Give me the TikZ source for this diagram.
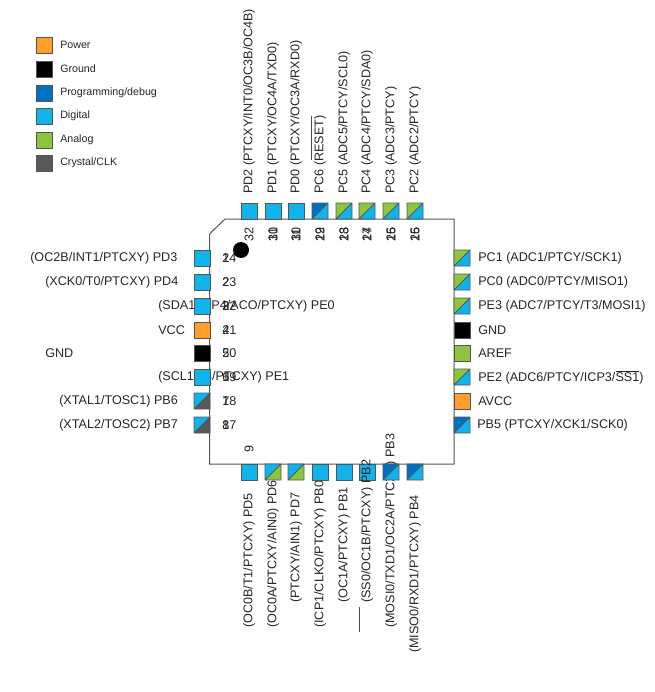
\documentclass[tikz,border=0pt]{standalone}
\usepackage{fontspec}
\setmainfont{Liberation Sans}
\definecolor{cpow}{HTML}{FF9E2D}
\definecolor{cprog}{HTML}{0070C0}
\definecolor{cdig}{HTML}{0FB4EC}
\definecolor{cana}{HTML}{8CC63F}
\definecolor{ccry}{HTML}{595959}
\definecolor{cedge}{HTML}{555555}
\tikzset{
  x=0.75pt,y=-0.75pt,
  lbl/.style={font=\fontsize{9.45}{11}\selectfont,inner sep=0pt,text=black!85},
  small/.style={font=\fontsize{8}{10}\selectfont,inner sep=0pt,text=black!85},
  pinbox/.style={draw=cedge,line width=0.7pt},
}
\newcommand{\pinsq}[3]{\path[pinbox,fill=#3] (#1,#2) rectangle ++(16,16);}
\newcommand{\pinup}[4]{%
  \fill[#3] (#1,#2) -- ++(16,0) -- ++(-16,16) -- cycle;
  \fill[#4] (#1+16,#2) -- ++(0,16) -- ++(-16,0) -- cycle;
  \draw[pinbox] (#1,#2) rectangle ++(16,16) (#1,#2+16) -- ++(16,-16);}
\newcommand{\lgd}[3]{\path[pinbox,fill=#2] (36,#1) rectangle ++(16,16);
  \node[small,anchor=west] at (60,#1+8) {#3};}
\newcommand{\lv}[3]{\node[lbl,rotate=90,anchor=west] at (#1,#2) {#3};}
\newcommand{\lh}[3]{\node[lbl,anchor=west] at (#1,#2) {#3};}
\newcommand{\nv}[3]{\node[lbl,rotate=90,anchor=west] at (#1,#2) {#3};}
\begin{document}
\begin{tikzpicture}
\useasboundingbox (0,0) rectangle (655,692);
\fill[white] (0,0) rectangle (655,692);
% legend
\lgd{37}{cpow}{Power}
\lgd{61}{black}{Ground}
\lgd{85}{cprog}{Programming/debug}
\lgd{108}{cdig}{Digital}
\lgd{132}{cana}{Analog}
\lgd{155}{ccry}{Crystal/CLK}
% chip
\draw[draw=cedge,line width=0.75pt,fill=white] (225,219) -- (454,219) -- (454,464) -- (209.5,464) -- (209.5,234) -- cycle;
% top labels
\lv{249}{194}{PD2 (PTCXY/INT0/OC3B/OC4B)}
\lv{273}{194}{PD1 (PTCXY/OC4A/TXD0)}
\lv{296}{194}{PD0 (PTCXY/OC3A/RXD0)}
\lv{320}{194}{PC6 (RESET)}
\lv{344}{194}{PC5 (ADC5/PTCY/SCL0)}
\lv{367}{194}{PC4 (ADC4/PTCY/SDA0)}
\lv{391}{194}{PC3 (ADC3/PTCY)}
\lv{415}{194}{PC2 (ADC2/PTCY)}
\draw[black!70,line width=0.5pt] (311,160) -- (311,116);
% top numbers
\nv{249}{242}{32}
\nv{273}{242}{31}\nv{273}{242}{10}
\nv{296}{242}{30}\nv{296}{242}{11}
\nv{320}{242}{29}\nv{320}{242}{12}
\nv{344}{242}{28}\nv{344}{242}{13}
\nv{367}{242}{27}\nv{367}{242}{14}
\nv{391}{242}{26}\nv{391}{242}{15}
\nv{415}{242}{25}\nv{415}{242}{16}
\nv{249}{453}{9}
% left labels
\lh{30}{258}{(OC2B/INT1/PTCXY) PD3}
\lh{45}{282}{(XCK0/T0/PTCXY) PD4}
\lh{158}{306}{(SDA1/ICP4/ACO/PTCXY) PE0}
\lh{158}{330}{VCC}
\lh{45}{353}{GND}
\lh{158}{377}{(SCL1/T4/PTCXY) PE1}
\lh{59}{401}{(XTAL1/TOSC1) PB6}
\lh{59}{425}{(XTAL2/TOSC2) PB7}
% left numbers
\lh{222}{258}{1}\lh{222}{258}{24}
\lh{222}{282}{2}\lh{222}{282}{23}
\lh{222}{306}{3}\lh{222}{306}{22}
\lh{222}{330}{4}\lh{222}{330}{21}
\lh{222}{353}{5}\lh{222}{353}{20}
\lh{222}{377}{6}\lh{222}{377}{19}
\lh{222}{401}{7}\lh{222}{401}{18}
\lh{222}{425}{8}\lh{222}{425}{17}
% right labels
\lh{478}{258}{PC1 (ADC1/PTCY/SCK1)}
\lh{478}{282}{PC0 (ADC0/PTCY/MISO1)}
\lh{478}{306}{PE3 (ADC7/PTCY/T3/MOSI1)}
\lh{478}{330}{GND}
\lh{478}{353}{AREF}
\lh{478}{377}{PE2 (ADC6/PTCY/ICP3/$\overline{\mbox{SS1}}$)}
\lh{478}{401}{AVCC}
\lh{477}{425}{PB5 (PTCXY/XCK1/SCK0)}
% bottom labels under the pins
\lv{249}{628}{(OC0B/T1/PTCXY) PD5}
\lv{296}{603}{(PTCXY/AIN1) PD7}
\lv{320}{628}{(ICP1/CLKO/PTCXY) PB0}
\lv{344}{603}{(OC1A/PTCXY) PB1}
\lv{391}{628}{(MOSI0/TXD1/OC2A/PTCXY) PB3}
\lv{415}{653}{(MISO0/RXD1/PTCXY) PB4}
\draw[black!70,line width=0.5pt] (359,607) -- (359,632);
% pins
\pinsq{194}{250}{cdig}\pinsq{194}{274}{cdig}\pinsq{194}{298}{cdig}\pinsq{194}{322}{cpow}
\pinsq{194}{345}{black}\pinsq{194}{369}{cdig}
\pinup{194}{393}{cdig}{ccry}\pinup{194}{417}{cdig}{ccry}
\pinsq{241}{203}{cdig}\pinsq{265}{203}{cdig}\pinsq{288}{203}{cdig}
\pinup{312}{203}{cprog}{cdig}\pinup{336}{203}{cana}{cdig}\pinup{359}{203}{cana}{cdig}\pinup{383}{203}{cana}{cdig}\pinup{407}{203}{cana}{cdig}
\pinup{454}{250}{cana}{cdig}\pinup{454}{274}{cana}{cdig}\pinup{454}{298}{cana}{cdig}
\pinsq{454}{322}{black}\pinsq{454}{345}{cana}
\pinup{454}{369}{cana}{cdig}
\pinsq{454}{393}{cpow}
\pinup{454}{417}{cprog}{cdig}
\pinsq{241}{464}{cdig}\pinup{265}{464}{cdig}{cana}\pinup{288}{464}{cdig}{cana}
\pinsq{312}{464}{cdig}\pinsq{336}{464}{cdig}\pinsq{359}{464}{cdig}
\pinup{383}{464}{cprog}{cdig}\pinup{407}{464}{cprog}{cdig}
% labels over the pins
\lv{273}{628}{(OC0A/PTCXY/AIN0) PD6}
\lv{367}{603}{(SS0/OC1B/PTCXY) PB2}
% pin-1 dot
\fill (241,250) circle (8);
\end{tikzpicture}
\end{document}
